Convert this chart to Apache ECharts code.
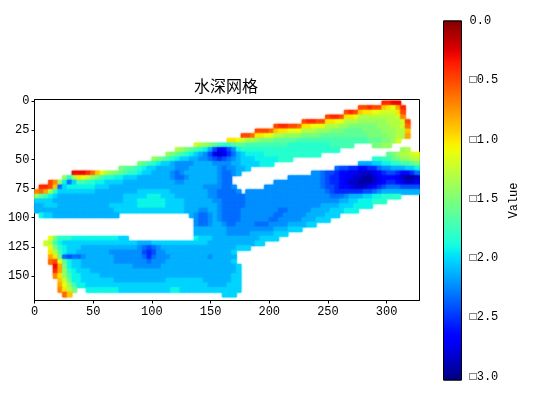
<!DOCTYPE html>
<html><head><meta charset="utf-8">
<script src="https://cdn.jsdelivr.net/npm/echarts@6/dist/echarts.min.js"></script>
<style>html,body{margin:0;padding:0;background:#fff}#c{width:535px;height:394px}</style>
</head><body><div id="c"></div>
<script>
// Depth, in tenths of the colour-bar unit, one list per 4-unit row; gap(n) = n empty cells.
const gap = n => new Array(n).fill(null);
const row00=[...gap(74),4,4,3,3];
const row01=[...gap(69),5,5,4,5,5,9,10,11,8,4];
const row02=[...gap(66),5,4,5,9,10,10,11,11,12,12,12,10,5];
const row03=[...gap(62),5,4,4,5,10,10,11,13,13,13,13,13,13,13,13,12,7];
const row04=[...gap(57),5,4,4,5,5,10,10,11,11,13,13,13,14,14,14,14,14,14,13,13,13,12,5];
const row05=[...gap(51),5,4,4,5,5,6,10,10,11,11,11,13,13,13,14,14,15,15,15,15,15,15,14,14,14,13,13,12,6];
const row06=[...gap(47),5,5,5,6,9,10,10,11,11,11,13,13,13,14,14,14,15,15,15,16,16,16,16,15,15,15,15,14,14,14,13,13,9];
const row07=[...gap(44),5,5,6,10,10,11,11,13,13,14,14,14,14,15,15,15,15,16,16,16,16,16,16,16,16,16,16,15,15,15,15,14,14,13,13,8];
const row08=[...gap(41),10,10,11,12,13,13,14,15,15,15,16,16,16,16,16,17,17,17,17,17,17,17,17,17,17,17,17,17,17,17,16,16,16,15,15,14,12];
const row09=[...gap(34),12,13,14,15,16,17,18,18,17,16,16,17,17,17,17,17,17,17,17,17,18,18,18,18,18,18,18,18,18,17,17,17,17,17,...gap(4),15,15,14,14];
const row10=[...gap(30),13,14,15,16,17,18,19,21,24,26,26,24,22,19,18,18,18,18,18,18,18,18,18,18,18,18,18,18,18,18,18,18,18,18,18,...gap(13),14,13];
const row11=[...gap(28),14,15,16,17,18,19,20,21,22,24,27,28,27,25,23,21,20,19,19,19,19,18,18,18,18,18,18,18,18,18,18,18,18,...gap(14),16,15,14,13,13,12,11];
const row12=[...gap(25),14,15,16,17,18,19,20,20,21,21,22,22,23,24,25,24,23,22,21,20,20,20,19,19,19,19,19,18,18,18,...gap(17),18,18,17,17,16,15,14,14,13,13];
const row13=[...gap(22),15,16,17,18,19,20,20,21,22,22,22,22,21,21,21,21,22,22,22,22,21,21,20,20,20,20,19,19,19,...gap(18),21,21,21,20,20,19,19,18,18,17,17,16,15];
const row14=[...gap(18),15,16,16,17,18,19,20,20,21,21,21,21,22,22,22,21,21,21,21,21,21,22,23,22,22,21,21,20,...gap(18),23,24,24,25,25,26,26,25,25,23,22,22,21,21,21,20,20,19];
const row15=[...gap(8),3,3,3,4,6,9,11,13,14,15,16,17,18,18,19,20,20,21,21,21,21,22,23,22,21,21,21,21,21,21,21,22,23,23,22,21,...gap(15),22,22,23,24,24,25,26,26,27,27,28,28,28,27,26,25,24,24,25,26,26,25,23];
const row16=[...gap(6),14,18,14,10,11,12,14,15,17,18,18,19,19,20,20,20,21,21,21,21,21,21,21,22,23,23,22,21,21,21,21,21,21,22,23,23,...gap(12),22,22,22,22,22,22,22,23,24,25,25,26,27,27,28,28,29,29,28,27,26,26,26,27,28,29,29,28];
const row17=[...gap(3),5,7,14,19,23,20,17,17,18,18,19,19,20,20,20,20,21,21,21,21,21,21,21,21,21,21,21,22,22,21,21,21,21,21,21,21,22,23,23,...gap(9),22,22,22,22,22,22,22,22,22,22,23,24,25,25,26,27,28,28,29,29,29,28,27,26,25,25,26,27,28,28,27];
const row18=[...gap(1),4,4,5,9,23,20,19,19,19,19,19,19,20,20,20,21,21,21,21,21,21,21,21,21,21,21,21,21,21,21,21,21,21,21,21,22,22,22,22,23,23,22,...gap(6),22,22,22,22,22,22,22,22,22,22,22,22,23,24,24,25,26,26,27,28,28,28,27,26,25,24,23,23,23,24,24,24,24];
const row19=[7,6,8,13,18,20,20,20,20,20,20,20,20,21,21,21,21,21,21,21,21,21,20,20,20,20,20,20,20,21,21,21,21,21,21,21,21,22,22,23,23,23,23,22,...gap(1),22,22,22,22,22,22,22,22,22,22,22,22,22,22,22,22,22,23,24,25,25,25,25,25,25,24,24,23,22,21,21,21,21,21,21,21,21];
const row20=[14,16,17,19,20,21,21,21,21,21,21,21,21,21,21,21,21,21,21,20,20,20,20,20,19,19,19,20,20,20,21,21,21,21,21,21,21,22,22,23,23,23,23,23,23,22,22,22,22,22,22,22,22,22,22,22,22,22,22,22,22,22,22,23,23,23,22,21,21,21,20,20,19,19,18,18,18,18];
const row21=[20,20,20,20,21,21,21,21,21,21,21,21,21,21,21,21,21,21,21,20,20,20,19,19,19,19,19,19,20,20,20,20,21,21,21,21,21,21,22,22,23,23,23,23,23,22,22,22,22,22,22,22,22,22,22,22,22,22,22,22,22,22,22,22,22,21,21,20,20,19,19,19,18,18,18];
const row22=[21,21,20,20,20,21,21,21,21,21,21,21,21,21,21,21,20,20,20,20,20,20,19,19,19,19,19,19,20,20,20,20,21,21,21,21,21,21,21,22,23,23,23,23,23,22,22,22,22,22,22,22,22,22,22,22,22,22,22,22,22,21,21,21,21,20,20,20,19,19,19,19];
const row23=[21,21,21,21,21,21,21,21,21,21,21,21,21,21,21,21,21,20,20,20,20,20,20,20,20,20,20,20,20,20,20,20,21,21,21,22,22,21,21,22,23,23,23,23,22,22,22,22,22,22,22,22,23,23,22,22,22,22,22,21,21,21,21,20,20,20,19,19,19];
const row24=[...gap(1),19,20,20,21,21,21,21,21,21,21,21,21,21,21,21,21,21,...gap(15),21,22,23,23,22,21,22,23,23,23,23,22,22,22,22,22,22,22,23,23,22,22,22,22,22,21,21,21,21,20,20,20];
const row25=[...gap(34),22,23,23,22,21,22,23,23,23,23,22,22,22,22,22,22,23,23,22,22,22,22,22,21,21,21,20,20,20];
const row26=[...gap(34),22,23,23,22,21,21,22,23,23,22,22,22,22,23,23,23,22,22,22,22,21,21,21,21,20,20];
const row27=[...gap(34),21,21,21,21,21,21,21,22,22,22,22,22,22,22,22,22,22,21,21,21,20,20,20];
const row28=[...gap(34),21,21,21,21,21,21,21,22,22,22,22,22,21,21,21,21,21,20,20,20];
const row29=[...gap(3),11,15,18,18,18,19,19,19,19,19,19,19,19,19,19,20,20,...gap(14),19,20,20,20,21,21,21,21,21,21,21,21,21,21,20,20,20,20];
const row30=[...gap(2),12,13,17,19,20,20,20,20,20,20,20,20,20,20,20,20,20,20,20,20,21,21,21,20,20,20,20,20,20,20,20,20,20,20,20,21,21,21,21,21,21,21,21,21,21,20,20];
const row31=[...gap(3),11,15,18,19,20,20,20,21,21,21,21,21,21,21,21,21,21,21,21,22,23,24,23,22,21,21,21,21,21,21,21,21,21,21,21,21,21,21,21,21,20,20,20];
const row32=[...gap(3),10,13,17,19,20,20,21,21,21,21,21,21,21,22,22,22,22,22,22,22,24,25,24,22,22,21,21,21,21,21,21,21,21,21,21,21,21,21,21,20];
const row33=[...gap(3),8,10,16,23,24,23,23,22,21,21,21,21,21,21,22,22,22,22,22,22,23,25,23,22,22,22,21,21,21,21,21,21,21,21,22,21,21,21,21,21];
const row34=[...gap(3),6,5,11,16,19,20,20,21,21,21,21,21,21,21,22,22,22,22,22,22,22,23,22,22,22,21,21,21,21,21,21,21,21,21,21,21,21,21,21,20];
const row35=[...gap(4),3,8,15,19,20,20,21,21,21,21,21,21,21,21,21,21,21,22,22,22,22,22,22,21,21,21,21,21,21,21,21,21,21,21,21,21,21,21,21,20];
const row36=[...gap(4),4,8,14,18,19,20,20,20,21,21,21,21,21,21,21,21,21,21,21,21,21,21,21,21,21,21,21,21,21,21,21,21,21,21,21,21,21,21,21,20];
const row37=[...gap(4),7,10,14,17,19,19,20,20,20,20,21,21,21,21,21,21,21,21,21,21,21,21,21,21,21,21,21,21,21,21,21,21,21,21,21,21,21,21,20,20];
const row38=[...gap(5),9,12,16,19,19,20,20,20,20,20,20,20,21,21,21,21,21,21,21,21,21,21,21,20,20,20,20,20,20,20,20,21,21,21,21,21,21,20,20];
const row39=[...gap(5),8,11,14,17,19,19,20,20,20,20,20,20,20,20,20,20,20,20,20,20,20,20,20,20,20,20,20,20,20,20,20,20,21,21,21,21,20,20,20];
const row40=[...gap(5),7,10,13,15,...gap(2),19,19,19,19,19,19,19,20,20,20,20,20,20,20,20,20,20,20,19,19,20,20,20,20,20,20,20,20,20,20,20,20,20];
const row41=[...gap(6),6,9,...gap(32),20,20,20];
const depthRows=[row00,row01,row02,row03,row04,row05,row06,row07,row08,row09,row10,row11,row12,row13,row14,row15,row16,row17,row18,row19,row20,row21,row22,row23,row24,row25,row26,row27,row28,row29,row30,row31,row32,row33,row34,row35,row36,row37,row38,row39,row40,row41];

const xTicks=[0,50,100,150,200,250,300];
const yTicks=[0,25,50,75,100,125,150];
const barTicks=[0,0.5,1,1.5,2,2.5,3];
const barLabels=['0.0','□0.5','□1.0','□1.5','□2.0','□2.5','□3.0'];
const titleText='水深网格';
const barName='Value';

const CELL=4;
const cells=[];
depthRows.forEach((r,j)=>r.forEach((v,i)=>{ if(v!==null) cells.push([i*CELL,j*CELL,v/10]); }));

function jet(t){
  const c=x=>Math.round(255*Math.max(0,Math.min(1,x)));
  const r=t<.35?0:t<.66?(t-.35)/.31:t<.89?1:1-(t-.89)/.11*.5;
  const g=t<.125?0:t<.375?(t-.125)/.25:t<.64?1:t<.91?(.91-t)/.27:0;
  const b=t<.11?.5+t/.11*.5:t<.34?1:t<.65?(.65-t)/.31:0;
  return `rgb(${c(r)},${c(g)},${c(b)})`;
}
const ramp=[];for(let k=0;k<=60;k++)ramp.push(jet(k/60));
const font='"Liberation Mono","DejaVu Sans Mono",monospace';
const chart=echarts.init(document.getElementById('c'),null,{renderer:'canvas'});
chart.setOption({
  animation:false,backgroundColor:'#fff',
  title:{text:titleText,left:189,top:73,textStyle:{fontFamily:'"Noto Sans CJK SC"',fontSize:16,fontWeight:'normal',color:'#000'}},
  grid:[{left:34.5,top:99.5,width:385,height:201,show:true,borderColor:'#000',borderWidth:1,backgroundColor:'#fff'},
        {left:443.5,top:21,width:18,height:359,show:true,borderColor:'#000',borderWidth:1}],
  xAxis:[{type:'value',gridIndex:0,min:0,max:328,position:'bottom',splitLine:{show:false},
      axisLine:{show:true,onZero:false,lineStyle:{color:'#000'}},axisTick:{length:3,lineStyle:{color:'#000'},customValues:xTicks},
      axisLabel:{customValues:xTicks,fontFamily:font,fontSize:12,color:'#000',margin:5}},
    {type:'value',gridIndex:1,min:0,max:1,show:false}],
  yAxis:[{type:'value',gridIndex:0,min:-1.3,max:171,inverse:true,splitLine:{show:false},
      axisLine:{show:true,onZero:false,lineStyle:{color:'#000'}},axisTick:{length:3,lineStyle:{color:'#000'},customValues:yTicks},
      axisLabel:{customValues:yTicks,fontFamily:font,fontSize:12,color:'#000',margin:5}},
    {type:'value',gridIndex:1,min:0,max:3.03,inverse:true,position:'right',splitLine:{show:false},
      name:barName,nameLocation:'middle',nameGap:46,nameRotate:90,nameTextStyle:{fontFamily:font,fontSize:12,color:'#000'},
      axisLine:{show:false},axisTick:{length:3,lineStyle:{color:'#000'},customValues:barTicks},
      axisLabel:{customValues:barTicks,fontFamily:font,fontSize:12,color:'#000',margin:8,padding:[3,0,0,0],
        formatter:v=>barLabels[barTicks.indexOf(v)]}}],
  visualMap:{show:false,seriesIndex:0,dimension:2,min:0,max:3,inRange:{color:ramp.slice().reverse()}},
  series:[{type:'custom',xAxisIndex:0,yAxisIndex:0,data:cells,encode:{x:0,y:1},clip:true,
      renderItem:(p,api)=>{
        const a=api.coord([api.value(0),api.value(1)]),b=api.coord([api.value(0)+CELL,api.value(1)+CELL]);
        const fill=api.visual('color');
        return {type:'rect',shape:{x:a[0],y:a[1],width:b[0]-a[0],height:b[1]-a[1]},style:{fill,stroke:fill,lineWidth:.5,shadowBlur:2,shadowColor:fill}};
      }},
    {type:'custom',xAxisIndex:1,yAxisIndex:1,data:[[0,0,3.03]],encode:{x:0,y:[1,2]},
      renderItem:(p,api)=>{
        const a=api.coord([0,api.value(1)]),b=api.coord([1,api.value(2)]);
        const stops=ramp.map((c,k)=>({offset:k/60,color:ramp[60-k]}));
        return {type:'rect',shape:{x:a[0],y:a[1],width:b[0]-a[0],height:b[1]-a[1]},
          style:{fill:{type:'linear',x:0,y:0,x2:0,y2:1,colorStops:stops},stroke:'#000',lineWidth:1}};
      }}]
});
</script></body></html>
